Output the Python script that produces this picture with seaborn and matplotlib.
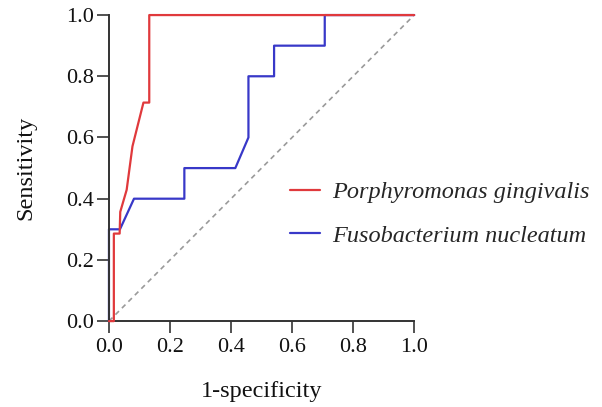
import numpy as np
import pandas as pd
import matplotlib
matplotlib.use("Agg")
import matplotlib.pyplot as plt
import seaborn as sns

# ROC points
pg_fpr = [0.0, 0.016, 0.016, 0.035, 0.037, 0.058, 0.077, 0.113, 0.132, 0.132, 1.0]
pg_tpr = [0.0, 0.0, 0.286, 0.286, 0.357, 0.429, 0.571, 0.714, 0.714, 1.0, 1.0]

fn_fpr = [0.0, 0.0, 0.036, 0.082, 0.247, 0.247, 0.414, 0.457, 0.457, 0.541, 0.541, 0.707, 0.707, 1.0]
fn_tpr = [0.0, 0.3, 0.3, 0.4, 0.4, 0.5, 0.5, 0.6, 0.8, 0.8, 0.9, 0.9, 1.0, 1.0]

ref_line = [0.0, 1.0]
ticks = [0.0, 0.2, 0.4, 0.6, 0.8, 1.0]

pg_label = "Porphyromonas gingivalis"
fn_label = "Fusobacterium nucleatum"

sns.set_style("ticks")
plt.rcParams["font.family"] = ["Liberation Serif", "DejaVu Serif"]

pg_df = pd.DataFrame({"fpr": pg_fpr, "tpr": pg_tpr})
fn_df = pd.DataFrame({"fpr": fn_fpr, "tpr": fn_tpr})

fig = plt.figure(figsize=(6.02, 4.07), dpi=100)
ax = fig.add_axes([0.181, 0.211, 0.507, 0.752])

# chance line
ax.plot(ref_line, ref_line, color="#9a9a9a", linestyle=(0, (3, 2.5)), linewidth=1.2, zorder=1)

sns.lineplot(data=fn_df, x="fpr", y="tpr", sort=False, estimator=None, ax=ax,
             color="#3838c8", linewidth=1.6, label=fn_label, clip_on=False, zorder=2)
sns.lineplot(data=pg_df, x="fpr", y="tpr", sort=False, estimator=None, ax=ax,
             color="#e0393c", linewidth=1.6, label=pg_label, clip_on=False, zorder=3)

ax.set_xlim(0, 1)
ax.set_ylim(0, 1)
ax.set_xticks(ticks)
ax.set_yticks(ticks)
ax.set_xticklabels([f"{t:.1f}" for t in ticks])
ax.set_yticklabels([f"{t:.1f}" for t in ticks])
ax.tick_params(axis="both", direction="out", length=8.5, width=1.2, labelsize=16,
               colors="#333333", labelcolor="#111111")
ax.tick_params(axis="x", pad=4)
ax.tick_params(axis="y", pad=2.5)
for side in ["left", "bottom"]:
    ax.spines[side].set_linewidth(1.4)
    ax.spines[side].set_color("#333333")
sns.despine(ax=ax)

ax.set_xlabel("1-specificity", fontsize=17.5, labelpad=17, color="#111111")
ax.set_ylabel("Sensitivity", fontsize=17.5, labelpad=21, color="#111111")

# legend: red first, blue second, italic
handles, labels = ax.get_legend_handles_labels()
order = [labels.index(pg_label), labels.index(fn_label)]
leg = ax.legend([handles[i] for i in order], [labels[i] for i in order],
                loc="center left", bbox_to_anchor=(0.592, 0.35), frameon=False,
                borderpad=0, borderaxespad=0,
                handlelength=1.25, handletextpad=0.5, labelspacing=0.9,
                prop={"family": ["Liberation Serif"], "style": "italic", "size": 17.5})

fig.savefig("out.png", dpi=100)
